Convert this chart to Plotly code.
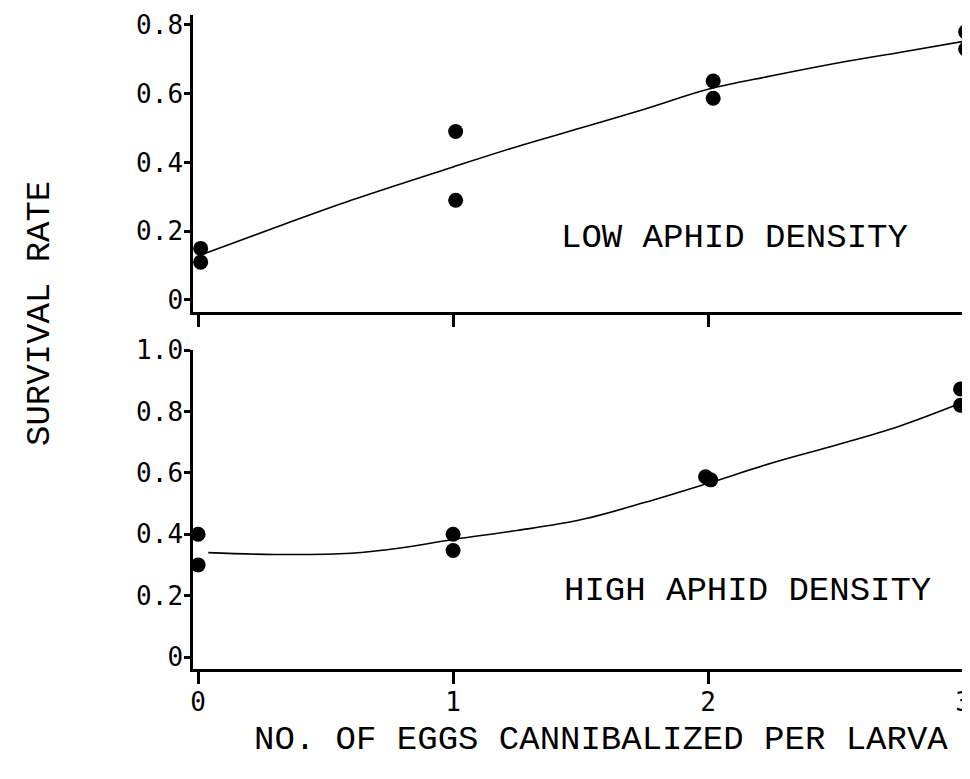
import plotly.graph_objects as go

# Data
low_x = [0.01, 0.01, 1.01, 1.01, 2.02, 2.02, 3.01, 3.01]
low_y = [0.15, 0.11, 0.49, 0.29, 0.637, 0.587, 0.78, 0.73]
low_curve_x = [0.01, 0.3, 0.6, 1.0, 1.25, 1.5, 1.75, 2.0, 2.25, 2.55, 2.75, 3.0]
low_curve_y = [0.131, 0.21, 0.29, 0.387, 0.446, 0.50, 0.555, 0.613, 0.652, 0.695, 0.72, 0.752]

high_x = [0.0, 0.0, 1.0, 1.0, 1.99, 2.01, 2.99, 2.99]
high_y = [0.40, 0.30, 0.40, 0.347, 0.587, 0.577, 0.873, 0.82]
high_curve_x = [0.04, 0.3, 0.6, 0.8, 1.0, 1.25, 1.5, 1.75, 2.0, 2.25, 2.5, 2.75, 3.0]
high_curve_y = [0.34, 0.334, 0.338, 0.356, 0.383, 0.412, 0.447, 0.503, 0.566, 0.632, 0.69, 0.752, 0.83]

x_ticks = [0, 1, 2, 3]
low_yticks = [0, 0.2, 0.4, 0.6, 0.8]
low_yticktext = ["0", "0.2", "0.4", "0.6", "0.8"]
high_yticks = [0, 0.2, 0.4, 0.6, 0.8, 1.0]
high_yticktext = ["0", "0.2", "0.4", "0.6", "0.8", "1.0"]

W, H = 970, 779
OFF = 8          # page body margin offset
L = 193 - OFF    # left margin in figure coordinates
PX_PER_UNIT = 255.0

fig = go.Figure()

marker = dict(color="black", size=15)
line = dict(color="black", width=1.6, shape="spline", smoothing=1.0)

fig.add_trace(go.Scatter(x=low_curve_x, y=low_curve_y, mode="lines", line=line,
                         xaxis="x", yaxis="y", showlegend=False, hoverinfo="skip"))
fig.add_trace(go.Scatter(x=low_x, y=low_y, mode="markers", marker=marker,
                         xaxis="x", yaxis="y", showlegend=False, cliponaxis=False))
fig.add_trace(go.Scatter(x=high_curve_x, y=high_curve_y, mode="lines", line=line,
                         xaxis="x2", yaxis="y2", showlegend=False, hoverinfo="skip"))
fig.add_trace(go.Scatter(x=high_x, y=high_y, mode="markers", marker=marker,
                         xaxis="x2", yaxis="y2", showlegend=False, cliponaxis=False))

tickfont = dict(family="DejaVu Sans Mono", size=26, color="black")
mono = dict(family="Courier New, Nimbus Mono PS, Nimbus Mono L, FreeMono, Liberation Mono, monospace",
            size=34, color="black")

x0 = -0.02
x1 = x0 + (W - L) / PX_PER_UNIT
common_x = dict(range=[x0, x1], showgrid=False, zeroline=False, showline=True,
                linecolor="black", linewidth=2.5, ticks="outside", ticklen=12,
                tickwidth=2.5, tickcolor="black", tickvals=x_ticks, tickfont=tickfont,
                automargin=False)
common_y = dict(showgrid=False, zeroline=False, showline=True, linecolor="black",
                linewidth=2.5, ticks="outside", ticklen=6, tickwidth=2.5,
                tickcolor="black", tickfont=tickfont, automargin=False,
                ticklabelstandoff=-4)

def dom(top_px, bot_px):
    return [1 - (bot_px - OFF) / H, 1 - (top_px - OFF) / H]

fig.update_layout(
    width=W, height=H,
    margin=dict(l=L, r=0, t=0, b=0, pad=0),
    paper_bgcolor="white", plot_bgcolor="white",
    xaxis=dict(common_x, domain=[0, 1], anchor="y", showticklabels=False),
    yaxis=dict(common_y, domain=dom(15, 312), range=[-0.035, 0.829], anchor="x",
               tickvals=low_yticks, ticktext=low_yticktext),
    xaxis2=dict(common_x, domain=[0, 1], anchor="y2", showticklabels=True,
                ticklabelstandoff=-4),
    yaxis2=dict(common_y, domain=dom(350, 669), range=[-0.039, 1.0], anchor="x2",
                tickvals=high_yticks, ticktext=high_yticktext),
    annotations=[
        dict(text="LOW APHID DENSITY", x=734, y=238, xref="paper", yref="paper",
             showarrow=False, font=mono),
        dict(text="HIGH APHID DENSITY", x=747, y=591, xref="paper", yref="paper",
             showarrow=False, font=mono),
        dict(text="NO. OF EGGS CANNIBALIZED PER LARVA", x=601, y=740, xref="paper",
             yref="paper", showarrow=False, font=mono),
        dict(text="SURVIVAL RATE", x=40, y=314, xref="paper", yref="paper",
             showarrow=False, font=mono, textangle=-90),
    ],
)

# convert pixel annotation positions (reference screen coords) to paper coordinates
plot_w = W - L
for a in fig.layout.annotations:
    px, py = a.x, a.y
    a.x = (px - OFF - L) / plot_w
    a.y = 1 - (py - OFF) / H
    a.xanchor = "center"
    a.yanchor = "middle"

fig.write_html("out.html")
